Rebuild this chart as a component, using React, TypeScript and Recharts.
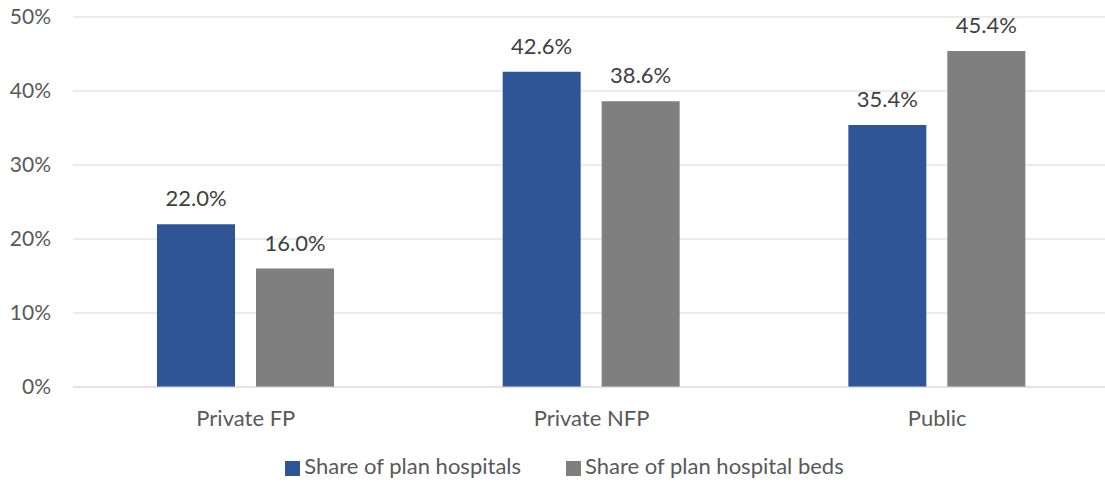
import React from 'react';
import { BarChart, Bar, XAxis, YAxis, CartesianGrid, Legend, LabelList } from 'recharts';

const categories = ['Private FP', 'Private NFP', 'Public'];
const hospitalShare = [22.0, 42.6, 35.4];
const bedShare = [16.0, 38.6, 45.4];
const yTicks = [0, 10, 20, 30, 40, 50];
const seriesNames = ['Share of plan hospitals', 'Share of plan hospital beds'];

const BLUE = '#2f5597';
const GRAY = '#7f7f7f';
const FONT = 'Lato, "Open Sans", sans-serif';

const data = categories.map((name, i) => ({
  name,
  hospitals: hospitalShare[i],
  beds: bedShare[i],
}));

const pct = (v: number) => `${v.toFixed(1)}%`;

export default function App() {
  return (
    <div style={{ width: 1105, height: 485, overflow: 'hidden', background: '#fff', fontFamily: FONT }}>
      <style>{'body{margin:0}'}</style>
      <BarChart
        width={1110}
        height={485}
        data={data}
        margin={{ top: 17, right: 0, left: 0, bottom: 58 }}
        barSize={78}
        barGap={21}
      >
        <CartesianGrid stroke="#d9d9d9" vertical={false} />
        <XAxis
          dataKey="name"
          height={40}
          tickLine={false}
          tickSize={0}
          tickMargin={23}
          axisLine={{ stroke: '#d9d9d9' }}
          tick={{ fill: '#595959', fontSize: 22, fontFamily: FONT }}
        />
        <YAxis
          width={73}
          domain={[0, 50]}
          ticks={yTicks}
          tickFormatter={(v) => `${v}%`}
          axisLine={false}
          tickLine={false}
          tickSize={0}
          tickMargin={22}
          tick={{ fill: '#595959', fontSize: 21, fontFamily: FONT }}
        />
        <Legend
          layout="horizontal"
          verticalAlign="middle"
          align="center"
          iconType="square"
          iconSize={15}
          itemSorter={(item: any) => seriesNames.indexOf(item.value)}
          wrapperStyle={{ top: 452, left: 0, width: 1139, fontSize: 22, fontFamily: FONT }}
          formatter={(value, entry, index) => (
            <span style={{ color: '#595959', marginRight: index === 0 ? 35 : 0 }}>{value}</span>
          )}
        />
        <Bar dataKey="hospitals" name={seriesNames[0]} fill={BLUE} isAnimationActive={false}>
          <LabelList
            dataKey="hospitals"
            position="top"
            offset={18}
            formatter={pct}
            style={{ fill: '#404040', fontSize: 22, fontFamily: FONT }}
          />
        </Bar>
        <Bar dataKey="beds" name={seriesNames[1]} fill={GRAY} isAnimationActive={false}>
          <LabelList
            dataKey="beds"
            position="top"
            offset={18}
            formatter={pct}
            style={{ fill: '#404040', fontSize: 22, fontFamily: FONT }}
          />
        </Bar>
      </BarChart>
    </div>
  );
}
